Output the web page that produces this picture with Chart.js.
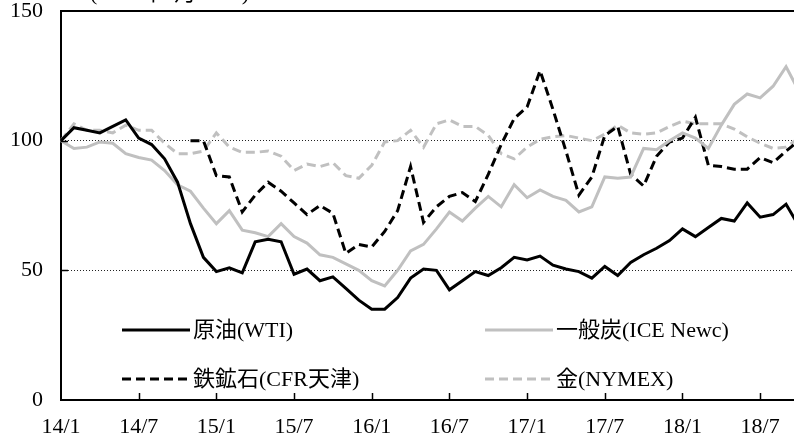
<!DOCTYPE html>
<html>
<head>
<meta charset="utf-8">
<script src="https://cdn.jsdelivr.net/npm/chart.js@4"></script>
<style>
  body { margin: 0; overflow: hidden; background: #fff; }
</style>
</head>
<body>
<canvas id="myChart" width="800" height="439"></canvas>
<script>
  // months from 2014/1, the chart is cut at the right edge
  const categories = [
    '14/1', '14/2', '14/3', '14/4', '14/5', '14/6', '14/7', '14/8', '14/9', '14/10', '14/11', '14/12',
    '15/1', '15/2', '15/3', '15/4', '15/5', '15/6', '15/7', '15/8', '15/9', '15/10', '15/11', '15/12',
    '16/1', '16/2', '16/3', '16/4', '16/5', '16/6', '16/7', '16/8', '16/9', '16/10', '16/11', '16/12',
    '17/1', '17/2', '17/3', '17/4', '17/5', '17/6', '17/7', '17/8', '17/9', '17/10', '17/11', '17/12',
    '18/1', '18/2', '18/3', '18/4', '18/5', '18/6', '18/7', '18/8', '18/9', '18/10'
  ];

  const wti = [100, 105, 104, 103, 105.5, 108, 101, 98.5, 93, 84, 68, 55,
    49.5, 51, 49, 61, 62, 61, 48.5, 50.5, 46, 47.5, 43, 38.5,
    35, 35, 39.5, 47, 50.5, 50, 42.5, 46, 49.5, 48, 51, 55,
    54, 55.5, 52, 50.5, 49.5, 47, 51.5, 48, 53, 56, 58.5, 61.5,
    66, 63, 66.5, 70, 69, 76, 70.5, 71.5, 75.5, 67];

  const coal = [100, 97, 97.5, 99.5, 99, 95, 93.5, 92.5, 88.5, 83, 80.5, 74,
    68, 73, 65.5, 64.5, 63, 68, 63, 60.5, 56, 55, 52.5, 50,
    46, 44, 50, 57.5, 60, 66, 72.5, 69, 74, 78.5, 74.5, 83,
    78, 81, 78.5, 77, 72.5, 74.5, 86, 85.5, 86, 97, 96.5, 100,
    103, 101, 97, 106, 114, 118, 116.5, 121, 128.5, 119];

  const ironOre = [null, null, null, null, null, null, null, null, null, null, 100, 100,
    86.5, 86, 72.5, 79, 84, 80.5, 76, 71.5, 75, 72, 56.5, 60,
    59, 65, 73, 90, 68.5, 74.5, 78.5, 80, 76.5, 87, 98.5, 108.5,
    113, 127, 112, 96, 79, 86, 102, 105.5, 87, 82.5, 94, 99.5,
    101, 109, 90.5, 90, 89, 89, 93.5, 91.5, 96, 100];

  const gold = [100, 106.5, 104, 104, 103, 106, 104, 104, 99, 95, 95, 96,
    103, 97.5, 95.5, 95.5, 96, 94, 88.5, 91, 90, 91.5, 86.5, 85.5,
    90.5, 99.5, 100, 104, 97.5, 106.5, 108, 105.5, 105.5, 102, 95, 93,
    97.5, 100.5, 101.5, 102, 101, 100, 102.5, 106, 103, 102.5, 103, 105.5,
    107.5, 106.5, 106.5, 106.5, 104.5, 101.5, 99, 97, 97.5, 101];

  const yTicks = [0, 50, 100, 150];
  const unitNote = '(2014年1月=100)';

  const grey = '#c0c0c0';
  const fontFamily = '"Liberation Serif", "Noto Sans CJK JP", serif';
  Chart.defaults.font.family = fontFamily;
  Chart.defaults.color = '#000';

  // frame, inward ticks, legend inside the plot and the cut-off note at the top
  const extras = {
    id: 'extras',
    afterDraw(chart) {
      const { ctx, chartArea, scales } = chart;
      ctx.save();
      ctx.strokeStyle = '#000';
      ctx.lineWidth = 2;
      ctx.beginPath();
      ctx.moveTo(chartArea.left - 1, chartArea.top);
      ctx.lineTo(chartArea.right + 5, chartArea.top);
      ctx.stroke();

      ctx.lineWidth = 1.5;
      ctx.beginPath();
      categories.forEach((c, i) => {
        if (i > 0 && i % 6 === 0) {
          const x = Math.round(scales.x.getPixelForValue(i)) + 0.5;
          ctx.moveTo(x, chartArea.bottom);
          ctx.lineTo(x, chartArea.bottom - 7);
        }
      });
      [50, 100].forEach(v => {
        const y = Math.round(scales.y.getPixelForValue(v)) + 0.5;
        ctx.moveTo(chartArea.left, y);
        ctx.lineTo(chartArea.left + 7, y);
      });
      ctx.stroke();

      // legend
      const cols = [122, 485];
      const rows = [330, 379];
      ctx.font = '22px ' + fontFamily;
      ctx.textBaseline = 'middle';
      ctx.fillStyle = '#000';
      chart.data.datasets.forEach((ds, i) => {
        const x = cols[i % 2];
        const y = rows[Math.floor(i / 2)];
        ctx.strokeStyle = ds.borderColor;
        ctx.lineWidth = ds.borderWidth;
        ctx.setLineDash(ds.borderDash || []);
        ctx.beginPath();
        ctx.moveTo(x, y);
        ctx.lineTo(x + 68, y);
        ctx.stroke();
        ctx.setLineDash([]);
        ctx.fillText(ds.label, x + 71, y + 1);
      });

      ctx.textBaseline = 'alphabetic';
      ctx.fillText(unitNote, 90, 0);
      ctx.restore();
    }
  };

  const ctx = document.getElementById('myChart').getContext('2d');

  const myChart = new Chart(ctx, {
    type: 'line',
    data: {
      labels: categories,
      datasets: [{
        label: '原油(WTI)',
        data: wti,
        borderColor: '#000',
        borderWidth: 3
      }, {
        label: '一般炭(ICE Newc)',
        data: coal,
        borderColor: grey,
        borderWidth: 3
      }, {
        label: '鉄鉱石(CFR天津)',
        data: ironOre,
        borderColor: '#000',
        borderWidth: 3,
        borderDash: [9, 5]
      }, {
        label: '金(NYMEX)',
        data: gold,
        borderColor: grey,
        borderWidth: 3,
        borderDash: [9, 5]
      }]
    },
    options: {
      responsive: false,
      animation: false,
      layout: { padding: { top: 11, right: 1, left: 0, bottom: 0 } },
      elements: { point: { radius: 0 }, line: { tension: 0 } },
      plugins: { legend: { display: false }, tooltip: { enabled: false } },
      scales: {
        x: {
          offset: false,
          grid: { display: false, drawTicks: false },
          border: { color: '#000', width: 2 },
          ticks: {
            autoSkip: false,
            maxRotation: 0,
            padding: 14,
            font: { size: 22 },
            callback: (v, i) => (i % 6 === 0 ? categories[i] : '')
          },
          afterFit: scale => {
            scale.height = 39;
            scale.paddingLeft = 0;
            scale.paddingRight = 0;
          }
        },
        y: {
          min: 0,
          max: 150,
          afterBuildTicks: scale => { scale.ticks = yTicks.map(v => ({ value: v })); },
          grid: {
            drawTicks: false,
            lineWidth: 1,
            color: c => (c.tick.value === 50 || c.tick.value === 100) ? '#222' : 'rgba(0,0,0,0)'
          },
          border: { color: '#000', width: 2, dash: [1, 2] },
          ticks: { padding: 18, font: { size: 22 } },
          afterFit: scale => {
            scale.width = 61;
            scale.paddingTop = 0;
            scale.paddingBottom = 0;
          }
        }
      }
    },
    plugins: [extras]
  });
</script>
</body>
</html>
